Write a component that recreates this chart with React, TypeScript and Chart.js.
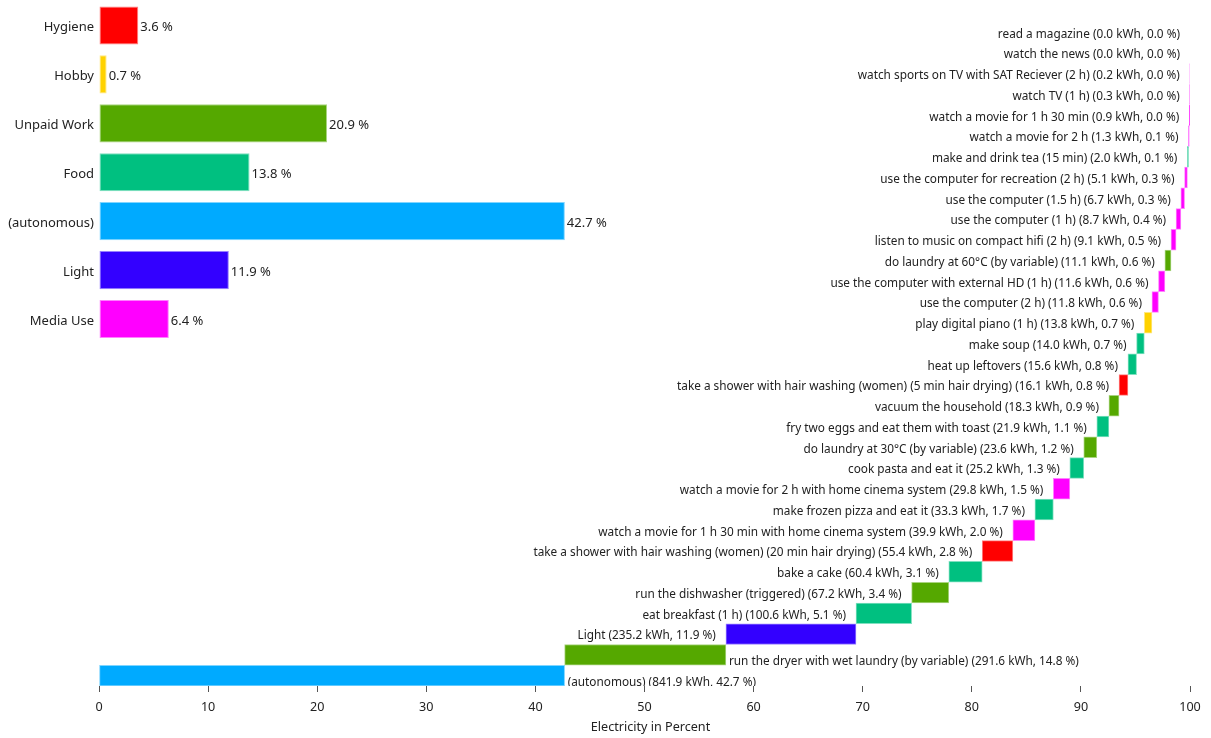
import React, { useEffect, useRef } from 'react';
import { Chart, registerables } from 'chart.js';

Chart.register(...registerables);

const FONT = '"Noto Sans", "DejaVu Sans", sans-serif';
const TEXT_COLOR = '#222222';

// Summary bars (top-left block)
const categoryLabels = ['Hygiene', 'Hobby', 'Unpaid Work', 'Food', '(autonomous)', 'Light', 'Media Use'];
const categoryPercent = [3.6, 0.7, 20.9, 13.8, 42.7, 11.9, 6.4];
const categoryColors = ['#FF0000', '#FFD200', '#55A800', '#00C080', '#00AAFF', '#3300FF', '#FF00FF'];
const categoryBorders = ['#FF8080', '#FFE880', '#AAD480', '#80E0C0', '#80D5FF', '#9980FF', '#FF80FF'];

// Waterfall activities, listed from the bottom row to the top row
const activityNames = [
  '(autonomous)',
  'run the dryer with wet laundry (by variable)',
  'Light',
  'eat breakfast (1 h)',
  'run the dishwasher (triggered)',
  'bake a cake',
  'take a shower with hair washing (women) (20 min hair drying)',
  'watch a movie for 1 h 30 min with home cinema system',
  'make frozen pizza and eat it',
  'watch a movie for 2 h with home cinema system',
  'cook pasta and eat it',
  'do laundry at 30°C (by variable)',
  'fry two eggs and eat them with toast',
  'vacuum the household',
  'take a shower with hair washing (women) (5 min hair drying)',
  'heat up leftovers',
  'make soup',
  'play digital piano (1 h)',
  'use the computer (2 h)',
  'use the computer with external HD (1 h)',
  'do laundry at 60°C (by variable)',
  'listen to music on compact hifi (2 h)',
  'use the computer (1 h)',
  'use the computer (1.5 h)',
  'use the computer for recreation (2 h)',
  'make and drink tea (15 min)',
  'watch a movie for 2 h',
  'watch a movie for 1 h 30 min',
  'watch TV (1 h)',
  'watch sports on TV with SAT Reciever (2 h)',
  'watch the news',
  'read a magazine',
];
const activityKwh = [
  841.9, 291.6, 235.2, 100.6, 67.2, 60.4, 55.4, 39.9, 33.3, 29.8, 25.2, 23.6, 21.9, 18.3, 16.1, 15.6,
  14.0, 13.8, 11.8, 11.6, 11.1, 9.1, 8.7, 6.7, 5.1, 2.0, 1.3, 0.9, 0.3, 0.2, 0.0, 0.0,
];
const activityPercent = [
  42.7, 14.8, 11.9, 5.1, 3.4, 3.1, 2.8, 2.0, 1.7, 1.5, 1.3, 1.2, 1.1, 0.9, 0.8, 0.8,
  0.7, 0.7, 0.6, 0.6, 0.6, 0.5, 0.4, 0.3, 0.3, 0.1, 0.1, 0.0, 0.0, 0.0, 0.0, 0.0,
];
// index into categoryLabels
const activityCategory = [
  4, 2, 5, 3, 2, 3, 0, 6, 3, 6, 3, 2, 3, 2, 0, 3,
  3, 1, 6, 6, 2, 6, 6, 6, 6, 3, 6, 6, 6, 6, 6, 6,
];
const xTicks = [0, 10, 20, 30, 40, 50, 60, 70, 80, 90, 100];
const xTitle = 'Electricity in Percent';

const SUMMARY_ROWS = 14;

export default function App() {
  const ref = useRef<HTMLCanvasElement | null>(null);

  useEffect(() => {
    document.body.style.margin = '0';
    const canvas = ref.current;
    if (!canvas) return;

    const total = activityKwh.reduce((a, b) => a + b, 0);
    let acc = 0;
    const ranges = activityKwh.map((v) => {
      const s = (acc / total) * 100;
      acc += v;
      const e = (acc / total) * 100;
      return [s, e];
    });
    const activityTexts = activityNames.map(
      (n, i) => `${n} (${activityKwh[i].toFixed(1)} kWh, ${activityPercent[i].toFixed(1)} %)`
    );

    const summaryLabels = categoryLabels.concat(
      Array(SUMMARY_ROWS - categoryLabels.length).fill('')
    );
    const waterfallLabels = activityNames.concat(['']);

    const labelPlugin = {
      id: 'barLabels',
      afterDatasetsDraw(chart: any) {
        const ctx = chart.ctx as CanvasRenderingContext2D;
        const area = chart.chartArea;
        ctx.save();
        ctx.beginPath();
        ctx.rect(area.left, area.top, area.right - area.left, area.bottom - area.top);
        ctx.clip();
        ctx.fillStyle = TEXT_COLOR;
        ctx.textBaseline = 'middle';

        ctx.font = `13px ${FONT}`;
        const m0 = chart.getDatasetMeta(0);
        m0.data.forEach((el: any, i: number) => {
          if (i >= categoryPercent.length) return;
          const p = el.getProps(['x', 'y', 'base'], true);
          ctx.textAlign = 'left';
          ctx.fillText(`${categoryPercent[i].toFixed(1)} %`, Math.max(p.x, p.base) + 2, p.y + 2);
        });

        ctx.font = `11.8px ${FONT}`;
        const m1 = chart.getDatasetMeta(1);
        m1.data.forEach((el: any, i: number) => {
          const p = el.getProps(['x', 'y', 'base'], true);
          const lo = Math.min(p.x, p.base);
          const hi = Math.max(p.x, p.base);
          if (ranges[i][0] < 50) {
            ctx.textAlign = 'left';
            ctx.fillText(activityTexts[i], hi + 3, p.y + 7);
          } else {
            ctx.textAlign = 'right';
            ctx.fillText(activityTexts[i], lo - 10, p.y + 2);
          }
        });
        ctx.restore();
      },
      afterDraw(chart: any) {
        const ctx = chart.ctx as CanvasRenderingContext2D;
        const area = chart.chartArea;
        ctx.save();
        ctx.fillStyle = TEXT_COLOR;
        ctx.font = `12.6px ${FONT}`;
        ctx.textAlign = 'center';
        ctx.textBaseline = 'middle';
        ctx.fillText(xTitle, (area.left + area.right) / 2 + 6, chart.height - 11);
        ctx.restore();
      },
    };

    const chart = new Chart(canvas, {
      type: 'bar',
      data: {
        labels: summaryLabels,
        datasets: [
          {
            data: categoryPercent as any,
            yAxisID: 'y',
            backgroundColor: categoryColors,
            borderColor: categoryBorders,
            borderWidth: 1,
            borderSkipped: false,
            barPercentage: 0.78,
            categoryPercentage: 1,
            grouped: false,
          } as any,
          {
            data: ranges as any,
            yAxisID: 'y2',
            backgroundColor: activityCategory.map((c) => categoryColors[c]),
            borderColor: activityCategory.map((c) => categoryBorders[c]),
            borderWidth: 1,
            borderSkipped: false,
            barPercentage: 1,
            categoryPercentage: 1,
            grouped: false,
          } as any,
        ],
      },
      options: {
        indexAxis: 'y',
        animation: false,
        responsive: true,
        maintainAspectRatio: false,
        layout: { padding: { left: 0, right: 21, top: 1, bottom: 0 } },
        plugins: {
          legend: { display: false },
          tooltip: { enabled: false },
        },
        scales: {
          x: {
            type: 'linear',
            min: 0,
            max: 100,
            afterBuildTicks: (scale: any) => {
              scale.ticks = xTicks.map((v) => ({ value: v }));
            },
            afterFit: (scale: any) => {
              scale.height = 52;
              scale.paddingLeft = 0;
              scale.paddingRight = 0;
            },
            grid: {
              drawOnChartArea: false,
              drawTicks: true,
              tickLength: 6,
              color: '#555555',
            },
            border: { display: false },
            ticks: {
              color: TEXT_COLOR,
              font: { family: FONT, size: 12.6, lineHeight: 2.0 },
              padding: 3,
              maxRotation: 0,
            },
            title: { display: false },
          },
          y: {
            type: 'category',
            labels: summaryLabels,
            position: 'left',
            afterFit: (scale: any) => {
              scale.width = 99;
              scale.paddingTop = 0;
              scale.paddingBottom = 0;
            },
            grid: { display: false, drawTicks: false },
            border: { display: false },
            ticks: {
              color: TEXT_COLOR,
              font: { family: FONT, size: 13 },
              padding: 5,
              labelOffset: 2,
              autoSkip: false,
            },
          },
          y2: {
            type: 'category',
            labels: waterfallLabels,
            position: 'left',
            reverse: true,
            display: false,
            offset: true,
          },
        },
      } as any,
      plugins: [labelPlugin],
    });

    return () => chart.destroy();
  }, []);

  return (
    <div style={{ width: 1211, height: 738, position: 'relative' }}>
      <canvas ref={ref} />
    </div>
  );
}
